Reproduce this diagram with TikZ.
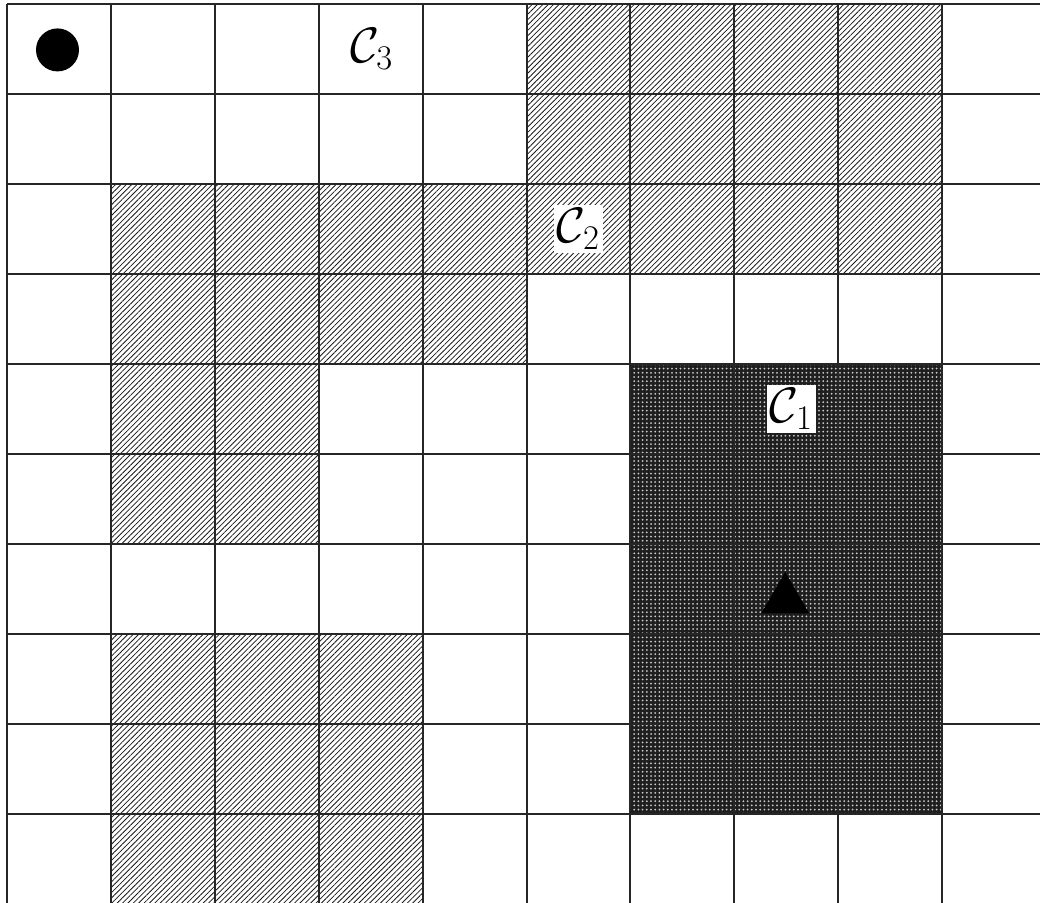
\documentclass[tikz,border=0pt]{standalone}
\usetikzlibrary{patterns,patterns.meta}
\tikzset{
  gridline/.style={line width=1pt, black!85},
  hatch/.style={pattern={Lines[angle=45, distance=1.9pt, line width=0.4pt]}, pattern color=black!90},
  darkfill/.style={fill=black!88},
  darkdots/.style={pattern={Dots[radius=0.5pt, distance=2.1pt]}, pattern color=white!80!black},
  cellabel/.style={fill=white, inner sep=1.5pt, font=\fontsize{23}{28}\selectfont},
}
\begin{document}
\begin{tikzpicture}[x=0.5pt,y=-0.5pt]
\useasboundingbox (0,0) rectangle (1040,902);
\clip (0,0) rectangle (1040,902);
\begin{scope}[shift={(7,4)}, x=51.95pt, y=-45pt]
  % hatched regions
  \fill[hatch] (5,0) rectangle (9,2);
  \fill[hatch] (1,2) rectangle (9,3);
  \fill[hatch] (1,3) rectangle (5,4);
  \fill[hatch] (1,4) rectangle (3,6);
  \fill[hatch] (1,7) rectangle (4,10.2);
  % dark region
  \fill[darkfill] (6,4) rectangle (9,9);
  \fill[darkdots] (6,4) rectangle (9,9);
  % grid
  \foreach \i in {0,...,9} \draw[gridline] (\i,0) -- (\i,10.2);
  \foreach \j in {0,...,9} \draw[gridline] (0,\j) -- (10.2,\j);
  % labels
  \node[cellabel] (c1) at (7.55,4.5) {$\mathcal{C}_{\mathrm{\scriptstyle 1}}$};
  \node[cellabel] (c2) at (5.5,2.5) {$\mathcal{C}_{\mathrm{\scriptstyle 2}}$};
  \node[cellabel, fill=none] (c3) at (3.51,0.5) {$\mathcal{C}_{\mathrm{\scriptstyle 3}}$};
  % markers
  \fill (0.486,0.51) circle[radius=10.75pt];
  \fill (7.26,6.77) -- (7.72,6.77) -- (7.49,6.31) -- cycle;
\end{scope}
\end{tikzpicture}
\end{document}
